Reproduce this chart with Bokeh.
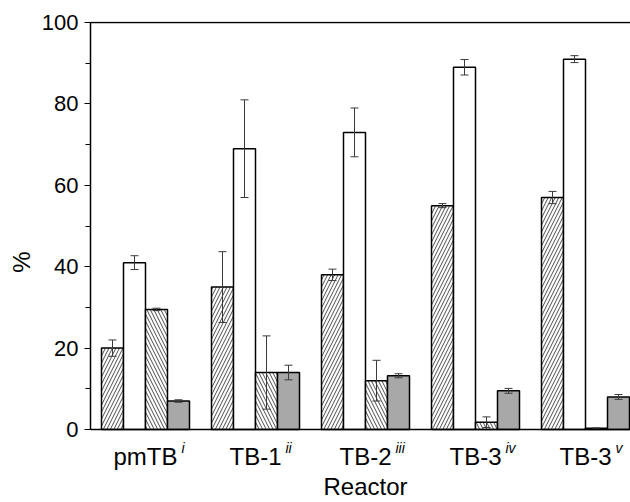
from bokeh.plotting import figure
from bokeh.models import (ColumnDataSource, Range1d, Whisker, TeeHead, Span,
                          SingleIntervalTicker)
from bokeh.core.properties import value
from bokeh.embed import file_html
from bokeh.resources import INLINE

# ---- data ----
categories = ["pmTB", "TB-1", "TB-2", "TB-3", "TB-3"]
superscripts = ["i", "ii", "iii", "iv", "v"]
s1 = [20.0, 35.0, 38.0, 55.0, 57.0]      # /// hatched
e1 = [2.0, 8.7, 1.4, 0.5, 1.5]
s2 = [41.0, 69.0, 73.0, 89.0, 91.0]      # white
e2 = [1.7, 12.0, 6.0, 1.9, 0.85]
s3 = [29.5, 14.0, 12.0, 1.8, 0.3]        # \\\ hatched
e3 = [0.3, 9.0, 5.0, 1.3, 0.1]
s4 = [7.0, 14.0, 13.2, 9.5, 8.0]         # grey
e4 = [0.3, 1.8, 0.5, 0.6, 0.6]
x_title = ["Reactor"]
y_title = "%"

FONT = "Liberation Sans"
W, H = 630, 502
LEFT, TOP, AXIS_Y = 90, 22, 429          # pixel layout of the axes box
GROUP_PX = 110
px_per_unit = (AXIS_Y - TOP) / 100.0
TEXT_SHIFT = 8                            # compensate baseline offset of text glyphs

centers = [i + 0.5 for i in range(len(categories))]
bar_w = 0.2

p = figure(width=W, height=H, output_backend="svg", toolbar_location=None,
           x_range=Range1d(0, (W - LEFT) / GROUP_PX),
           y_range=Range1d(-(H - AXIS_Y) / px_per_unit, 100 + 1 / px_per_unit),
           x_axis_location=None,
           min_border_left=LEFT, min_border_right=0, min_border_top=TOP - 1,
           min_border_bottom=0)
p.background_fill_color = "white"
p.border_fill_color = "white"
p.outline_line_color = None
p.xgrid.visible = False
p.ygrid.visible = False

series = [
    (s1, e1, -0.3, dict(fill_color="white", hatch_pattern="/", hatch_color="black",
                        hatch_scale=7, hatch_weight=0.7)),
    (s2, e2, -0.1, dict(fill_color="white")),
    (s3, e3, 0.1, dict(fill_color="white", hatch_pattern="\\", hatch_color="black",
                       hatch_scale=7, hatch_weight=0.7)),
    (s4, e4, 0.3, dict(fill_color="#a8a8a8")),
]

for vals, errs, off, style in series:
    xs = [c + off for c in centers]
    src = ColumnDataSource(dict(x=xs, top=vals,
                                upper=[v + e for v, e in zip(vals, errs)],
                                lower=[max(v - e, 0) for v, e in zip(vals, errs)]))
    p.vbar(x="x", top="top", bottom=0, width=bar_w, source=src,
           line_color="black", line_width=1.5, **style)
    w = Whisker(base="x", upper="upper", lower="lower", source=src, level="annotation",
                line_color="#3a3a3a", line_width=1,
                upper_head=TeeHead(size=8, line_color="#3a3a3a", line_width=1),
                lower_head=TeeHead(size=8, line_color="#3a3a3a", line_width=1))
    p.add_layout(w)

# axis lines: bottom (y=0) and top (y=100)
p.add_layout(Span(location=0, dimension="width", line_color="black", line_width=1.5))
p.add_layout(Span(location=100, dimension="width", line_color="black", line_width=1.5))

# y axis
yax = p.yaxis[0]
yax.bounds = (0, 100)
yax.ticker = SingleIntervalTicker(interval=20, num_minor_ticks=2)
yax.axis_label = y_title
yax.axis_label_text_font = FONT
yax.axis_label_text_font_size = "24px"
yax.axis_label_text_font_style = "normal"
yax.axis_label_text_color = "black"
yax.axis_label_standoff = 4
yax.major_label_text_font = FONT
yax.major_label_text_font_size = "22px"
yax.major_label_text_color = "black"
yax.major_label_standoff = 6
yax.major_tick_out = 6
yax.major_tick_in = 0
yax.minor_tick_out = 5
yax.minor_tick_in = 0
yax.axis_line_width = 1.5
yax.major_tick_line_width = 1.2
yax.minor_tick_line_width = 1.2

# category labels with italic superscripts
char_w = {"p": 556, "m": 833, "T": 611, "B": 667, "-": 333, "1": 556, "2": 556, "3": 556}
LABEL_PX = 24
half_w = [sum(char_w.get(ch, 556) for ch in n) / 1000 * LABEL_PX / 2 + 4 for n in categories]
lab_src = ColumnDataSource(dict(x=centers, text=categories, sup=superscripts, off=half_w))
p.text(x="x", y=-(464 - TEXT_SHIFT - AXIS_Y) / px_per_unit, text="text", source=lab_src,
       text_font=value(FONT), text_font_size="24px", text_color="black",
       text_align="center", text_baseline="alphabetic")
p.text(x="x", y=-(455 - TEXT_SHIFT - AXIS_Y) / px_per_unit, text="sup", x_offset="off",
       source=lab_src, text_font=value(FONT), text_font_size="14px",
       text_font_style="italic", text_color="black", text_align="left",
       text_baseline="alphabetic")

# x axis title
title_src = ColumnDataSource(dict(x=[(centers[0] + centers[-1]) / 2], text=x_title))
p.text(x="x", y=-(494 - TEXT_SHIFT - AXIS_Y) / px_per_unit, text="text", source=title_src,
       text_font=value(FONT), text_font_size="24px", text_color="black",
       text_align="center", text_baseline="alphabetic")

open("out.html", "w").write(file_html(p, INLINE))
